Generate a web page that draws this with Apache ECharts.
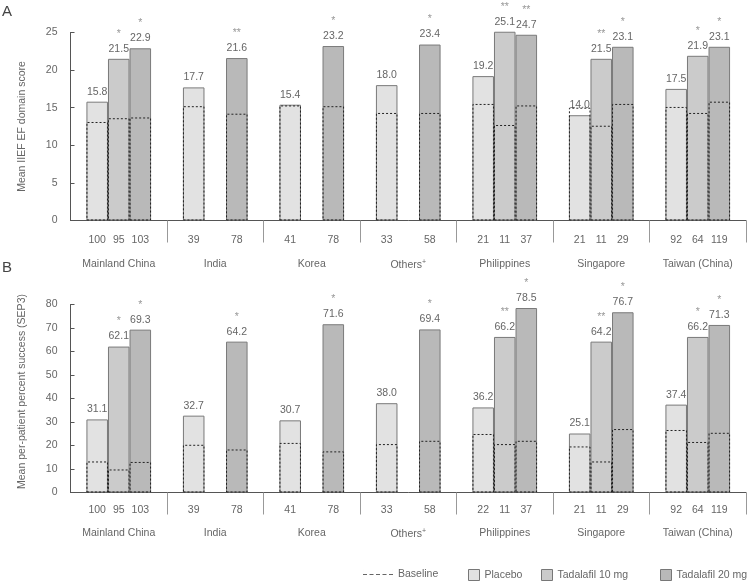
<!DOCTYPE html>
<html>
<head>
<meta charset="utf-8">
<script src="https://cdn.jsdelivr.net/npm/echarts@6/dist/echarts.min.js"></script>
<style>html,body{margin:0;padding:0;background:#fff}#c{width:750px;height:586px}</style>
</head>
<body>
<div id="c"></div>
<script>
const groups = ['Mainland China','India','Korea','Others','Philippines','Singapore','Taiwan (China)'];

// Panel A: Mean IIEF EF domain score
const aPlacebo = [15.8, 17.7, 15.4, 18.0, 19.2, 14.0, 17.5];
const aT10     = [21.5, null, null, null, 25.1, 21.5, 21.9];
const aT20     = [22.9, 21.6, 23.2, 23.4, 24.7, 23.1, 23.1];
const aBasePlacebo = [13.1, 15.2, 15.3, 14.3, 15.5, 15.0, 15.1];
const aBaseT10     = [13.6, null, null, null, 12.7, 12.6, 14.3];
const aBaseT20     = [13.7, 14.2, 15.2, 14.3, 15.3, 15.5, 15.8];
const aStarsT10 = ['*', '', '', '', '**', '**', '*'];
const aStarsT20 = ['*', '**', '*', '*', '**', '*', '*'];
const aNPlacebo = [100, 39, 41, 33, 21, 21, 92];
const aNT10     = [95, null, null, null, 11, 11, 64];
const aNT20     = [103, 78, 78, 58, 37, 29, 119];

// Panel B: Mean per-patient percent success (SEP3)
const bPlacebo = [31.1, 32.7, 30.7, 38.0, 36.2, 25.1, 37.4];
const bT10     = [62.1, null, null, null, 66.2, 64.2, 66.2];
const bT20     = [69.3, 64.2, 71.6, 69.4, 78.5, 76.7, 71.3];
const bBasePlacebo = [13.2, 20.3, 21.1, 20.6, 24.9, 19.6, 26.6];
const bBaseT10     = [9.8, null, null, null, 20.6, 13.2, 21.5];
const bBaseT20     = [13.0, 18.3, 17.5, 22.0, 22.0, 27.0, 25.4];
const bStarsT10 = ['*', '', '', '', '**', '**', '*'];
const bStarsT20 = ['*', '*', '*', '*', '*', '*', '*'];
const bNPlacebo = [100, 39, 41, 33, 22, 21, 92];
const bNT10     = [95, null, null, null, 11, 11, 64];
const bNT20     = [103, 78, 78, 58, 37, 29, 119];

const yTicksA = {min: 0, max: 25, interval: 5};
const yTicksB = {min: 0, max: 80, interval: 10};

const FONT = 'Liberation Sans';
const TXT = '#666';
const colors = {'Placebo': '#e2e2e2', 'Tadalafil 10 mg': '#cbcbcb', 'Tadalafil 20 mg': '#b9b9b9'};

const chart = echarts.init(document.getElementById('c'), null, {renderer: 'canvas'});

const grids = [
  {left: 70.5, right: 4, top: 32.5, height: 188},
  {left: 70.5, right: 4, top: 304.5, height: 188}
];

function groupLabel(v) {
  return v === 'Others' ? 'Others{sup|+}' : v;
}

const xAxes = [];
const yAxes = [];
[0, 1].forEach(function (p) {
  xAxes.push({
    type: 'category', gridIndex: p, data: groups,
    axisLine: {lineStyle: {color: '#555', width: 1}},
    axisTick: {show: true, length: 22, lineStyle: {color: '#999'},
      interval: function (i) { return i !== 0; }},
    axisLabel: {
      color: TXT, fontSize: 10.5, fontFamily: FONT, margin: p === 0 ? 38 : 35,
      formatter: groupLabel,
      rich: {sup: {fontSize: 7, color: TXT, fontFamily: FONT, padding: [0, 0, 6, 0]}}
    }
  });
  xAxes.push({type: 'category', gridIndex: p, data: groups, show: false});
});
yAxes.push(Object.assign({
  type: 'value', gridIndex: 0,
  name: 'Mean IIEF EF domain score', nameLocation: 'middle', nameGap: 43,
  nameTextStyle: {color: TXT, fontSize: 10.5, fontFamily: FONT},
  axisLine: {show: true, lineStyle: {color: '#555'}},
  axisTick: {show: true, inside: true, length: 4, lineStyle: {color: '#555'}},
  axisLabel: {color: TXT, fontSize: 10.5, fontFamily: FONT, margin: 13},
  splitLine: {show: false}
}, yTicksA));
yAxes.push(Object.assign({
  type: 'value', gridIndex: 1,
  name: 'Mean per-patient percent success (SEP3)', nameLocation: 'middle', nameGap: 43,
  nameTextStyle: {color: TXT, fontSize: 10.5, fontFamily: FONT, padding: [0, 0, 0, 14]},
  axisLine: {show: true, lineStyle: {color: '#555'}},
  axisTick: {show: true, inside: true, length: 4, lineStyle: {color: '#555'}},
  axisLabel: {color: TXT, fontSize: 10.5, fontFamily: FONT, margin: 13},
  splitLine: {show: false}
}, yTicksB));

const series = [];
function addPanel(p, vals, bases, stars, ns, nDist) {
  const names = ['Placebo', 'Tadalafil 10 mg', 'Tadalafil 20 mg'];
  names.forEach(function (nm, k) {
    series.push({
      type: 'bar', name: nm, xAxisIndex: 2 * p, yAxisIndex: p,
      barGap: 0, barCategoryGap: '33%', clip: false, z: 2,
      itemStyle: {color: colors[nm], borderColor: '#7a7a7a', borderWidth: 1},
      data: vals[k].map(function (v, i) {
        return v == null ? null : {value: v, stars: stars[k][i]};
      }),
      label: {
        show: true, position: 'top', distance: 4,
        formatter: function (pr) {
          const s = pr.data.stars;
          const v = pr.value.toFixed(1);
          return s ? '{s|' + s + '}\n{v|' + v + '}' : '{v|' + v + '}';
        },
        rich: {
          s: {color: '#999', fontSize: 10.5, fontFamily: FONT, lineHeight: 18, align: 'center'},
          v: {color: TXT, fontSize: 10.5, fontFamily: FONT, lineHeight: 12, align: 'center'}
        }
      }
    });
    series.push({
      type: 'bar', name: 'Baseline', xAxisIndex: 2 * p + 1, yAxisIndex: p,
      barGap: 0, barCategoryGap: '33%', clip: false, z: 3,
      itemStyle: {color: 'rgba(0,0,0,0)', borderColor: '#222', borderWidth: 1, borderType: [2, 2]},
      data: bases[k].map(function (v, i) {
        return v == null ? null : {value: v, n: ns[k][i]};
      }),
      label: {
        show: true, position: 'bottom', distance: nDist,
        color: TXT, fontSize: 10.5, fontFamily: FONT,
        formatter: function (pr) { return String(pr.data.n); }
      }
    });
  });
}
addPanel(0, [aPlacebo, aT10, aT20], [aBasePlacebo, aBaseT10, aBaseT20], [['','','','','','',''], aStarsT10, aStarsT20], [aNPlacebo, aNT10, aNT20], 14);
addPanel(1, [bPlacebo, bT10, bT20], [bBasePlacebo, bBaseT10, bBaseT20], [['','','','','','',''], bStarsT10, bStarsT20], [bNPlacebo, bNT10, bNT20], 12);

const legTxt = {color: TXT, fontSize: 10.5, fontFamily: FONT};
function boxLegend(name, left) {
  return {
    left: left, top: 569, padding: 0, itemWidth: 11, itemHeight: 11, selectedMode: false,
    textStyle: legTxt,
    data: [{name: name, icon: 'rect', itemStyle: {borderColor: '#777', borderWidth: 1}}]
  };
}

chart.setOption({
  animation: false,
  textStyle: {fontFamily: FONT, color: TXT},
  grid: grids,
  xAxis: xAxes,
  yAxis: yAxes,
  series: series,
  legend: [
    {
      left: 363, top: 569, padding: 0, itemWidth: 30, itemHeight: 11, selectedMode: false,
      textStyle: legTxt,
      data: [{name: 'Baseline',
        icon: 'path://M0,5h4v1h-4zM6.5,5h4v1h-4zM13,5h4v1h-4zM19.5,5h4v1h-4zM26,5h4v1h-4zM0,0h0.01v11h-0.01zM29.99,0h0.01v11h-0.01z',
        itemStyle: {color: '#666', borderWidth: 0}}]
    },
    boxLegend('Placebo', 468),
    boxLegend('Tadalafil 10 mg', 541),
    boxLegend('Tadalafil 20 mg', 660)
  ],
  graphic: [
    {type: 'text', left: 2, top: 4, style: {text: 'A', fontSize: 15, fontFamily: FONT, fill: '#444'}},
    {type: 'text', left: 2, top: 260, style: {text: 'B', fontSize: 15, fontFamily: FONT, fill: '#444'}}
  ]
});
</script>
</body>
</html>
